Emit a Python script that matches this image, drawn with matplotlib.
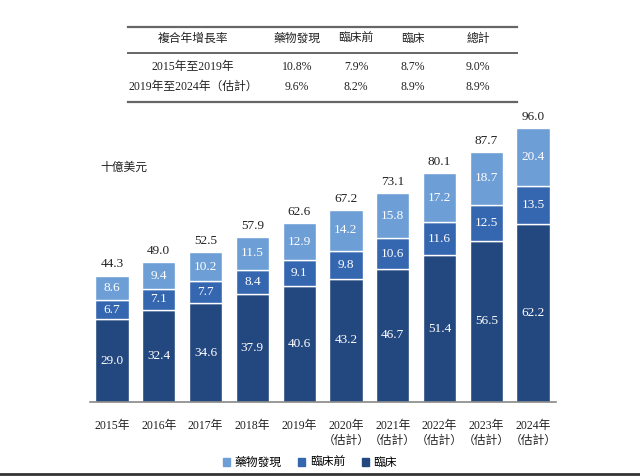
"""Stacked bars: global drug R&D outsourcing market by stage, 2015-2024E."""

import matplotlib

matplotlib.use("Agg")
import matplotlib.pyplot as plt
from matplotlib.lines import Line2D
from matplotlib.patches import Patch

plt.rcParams["font.family"] = ["Liberation Serif", "Noto Sans CJK TC", "DejaVu Sans"]

years = ["2015年", "2016年", "2017年", "2018年", "2019年",
         "2020年\n（估計）", "2021年\n（估計）", "2022年\n（估計）",
         "2023年\n（估計）", "2024年\n（估計）"]
clinical = [29.0, 32.4, 34.6, 37.9, 40.6, 43.2, 46.7, 51.4, 56.5, 62.2]
preclinical = [6.7, 7.1, 7.7, 8.4, 9.1, 9.8, 10.6, 11.6, 12.5, 13.5]
discovery = [8.6, 9.4, 10.2, 11.5, 12.9, 14.2, 15.8, 17.2, 18.7, 20.4]
totals = [44.3, 49.0, 52.5, 57.9, 62.6, 67.2, 73.1, 80.1, 87.7, 96.0]

cagr_header = ["複合年增長率", "藥物發現", "臨床前", "臨床", "總計"]
cagr_rows = [
    ["2015年至2019年", "10.8%", "7.9%", "8.7%", "9.0%"],
    ["2019年至2024年（估計）", "9.6%", "8.2%", "8.9%", "8.9%"],
]

C_DISC = "#6d9ed6"
C_PRE = "#3566b0"
C_CLIN = "#234880"
TXT = "#222222"

W, H = 640, 476
fig = plt.figure(figsize=(W / 100, H / 100), dpi=100)


def fx(px):
    return px / W


def fy(py):
    return 1 - py / H


# ── bar chart ──────────────────────────────────────────────────────────
ax = fig.add_axes([fx(90), fy(402), fx(556) - fx(90), fy(116.6) - fy(402)])
x = range(len(years))
bw = 0.71
ax.bar(x, clinical, bw, color=C_CLIN, edgecolor="white", linewidth=1)
ax.bar(x, preclinical, bw, bottom=clinical, color=C_PRE,
       edgecolor="white", linewidth=1)
base2 = [a + b for a, b in zip(clinical, preclinical)]
ax.bar(x, discovery, bw, bottom=base2, color=C_DISC,
       edgecolor="white", linewidth=1)

for i in x:
    ax.text(i, clinical[i] / 2, f"{clinical[i]:.1f}", ha="center",
            va="center", color="white", fontsize=9.5)
    ax.text(i, clinical[i] + preclinical[i] / 2, f"{preclinical[i]:.1f}",
            ha="center", va="center", color="white", fontsize=9.5)
    ax.text(i, base2[i] + discovery[i] / 2, f"{discovery[i]:.1f}",
            ha="center", va="center", color="white", fontsize=9.5)
    ax.text(i, totals[i] + 1.8, f"{totals[i]:.1f}", ha="center",
            va="bottom", color=TXT, fontsize=9.5)

ax.set_xlim(-0.47, 9.49)
ax.set_ylim(0, 100)
ax.set_xticks(list(x))
ax.set_xticklabels(years, fontsize=8.5, color=TXT, linespacing=1.35)
ax.tick_params(axis="x", length=0, pad=13)
ax.set_yticks([])
for s in ("left", "right", "top"):
    ax.spines[s].set_visible(False)
ax.spines["bottom"].set_color("#888888")
ax.spines["bottom"].set_linewidth(1.2)

fig.text(fx(100), fy(168), "十億美元", fontsize=8.5, style="italic",
         ha="left", va="center", color=TXT)

# ── CAGR table ─────────────────────────────────────────────────────────
col_x = [193, 297, 356, 413, 478]
for py, lw in ((27, 1.6), (53, 1.4), (102, 1.6)):
    fig.add_artist(Line2D([fx(128), fx(517)], [fy(py), fy(py)],
                          color="#666666", linewidth=lw))
for cx, txt in zip(col_x, cagr_header):
    fig.text(fx(cx), fy(39), txt, fontsize=8.5, ha="center", va="center",
             color=TXT)
for py, row in zip((67, 87), cagr_rows):
    for cx, txt in zip(col_x, row):
        fig.text(fx(cx), fy(py), txt, fontsize=8.5, ha="center", va="center",
                 color=TXT)

# ── legend ─────────────────────────────────────────────────────────────
handles = [Patch(color=C_DISC, label="藥物發現"),
           Patch(color=C_PRE, label="臨床前"),
           Patch(color=C_CLIN, label="臨床")]
fig.legend(handles=handles, loc="center", bbox_to_anchor=(fx(310), fy(463)),
           ncol=3, frameon=False, fontsize=8.5, handlelength=0.6,
           handleheight=0.6, handletextpad=0.4, columnspacing=1.4)

fig.add_artist(Line2D([0, 1], [fy(474), fy(474)], color="#333333",
                      linewidth=2))

fig.savefig("out.png", dpi=100)
